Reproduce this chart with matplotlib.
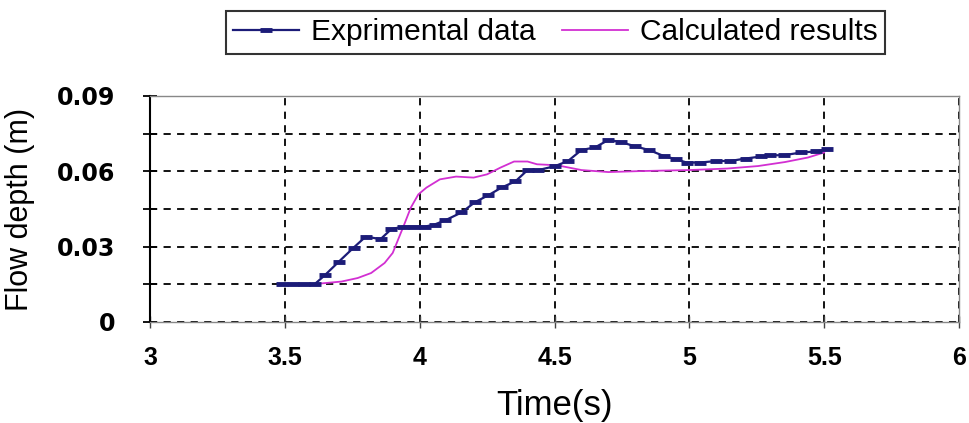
import matplotlib
matplotlib.use("Agg")
import matplotlib.pyplot as plt
from matplotlib.ticker import MultipleLocator
from matplotlib.font_manager import FontProperties

plt.rcParams['font.family'] = ['Liberation Sans', 'DejaVu Sans']

t_exp = [3.49, 3.53, 3.57, 3.61, 3.65, 3.70, 3.755, 3.80, 3.855, 3.895, 3.94, 3.98,
         4.02, 4.055, 4.095, 4.155, 4.205, 4.255, 4.305, 4.355, 4.40, 4.44, 4.50,
         4.55, 4.60, 4.65, 4.70, 4.745, 4.80, 4.85, 4.905, 4.95, 4.99, 5.04, 5.10,
         5.15, 5.21, 5.265, 5.30, 5.35, 5.415, 5.47, 5.51]
y_exp = [0.015, 0.015, 0.015, 0.015, 0.0188, 0.024, 0.0296, 0.034, 0.033, 0.037,
         0.038, 0.038, 0.038, 0.0388, 0.0405, 0.0436, 0.0477, 0.0505, 0.0536, 0.056,
         0.0605, 0.0605, 0.062, 0.0641, 0.0685, 0.0695, 0.0725, 0.0717, 0.0699,
         0.0685, 0.0661, 0.0648, 0.0635, 0.0635, 0.0641, 0.0641, 0.0651, 0.0659,
         0.0664, 0.0664, 0.0675, 0.0679, 0.0688]

# calculated results
t_calc = [3.60, 3.71, 3.77, 3.82, 3.87, 3.90, 3.92, 3.94, 3.967, 3.995, 4.025, 4.075,
          4.135, 4.20, 4.25, 4.30, 4.35, 4.40, 4.435, 4.51, 4.60, 4.70, 4.82, 5.0,
          5.14, 5.255, 5.355, 5.44, 5.50]
y_calc = [0.015, 0.0161, 0.0175, 0.0195, 0.0235, 0.0275, 0.0328, 0.0381, 0.0455,
          0.0508, 0.0535, 0.0568, 0.0579, 0.0575, 0.0588, 0.0615, 0.0639, 0.0639,
          0.0628, 0.0624, 0.0605, 0.0597, 0.0601, 0.0605, 0.0611, 0.0621, 0.0637,
          0.0655, 0.0675]

x_ticks = [3, 3.5, 4, 4.5, 5, 5.5, 6]
x_labels = ['3', '3.5', '4', '4.5', '5', '5.5', '6']
y_ticks = [0, 0.03, 0.06, 0.09]
y_labels = ['0', '0.03', '0.06', '0.09']

fig = plt.figure(figsize=(9.69, 4.23), dpi=100)
ax = fig.add_axes([0.1548, 0.2388, 0.8349, 0.5343])

ax.plot(t_exp, y_exp, color='#1c1c78', lw=1.6, marker='_', ms=9, mew=3.5,
        label='Exprimental data', zorder=4)
ax.plot(t_calc, y_calc, color='#d22fd2', lw=1.3, label='Calculated results', zorder=3)

ax.set_xlim(3, 6)
ax.set_ylim(0, 0.09)
ax.set_xticks(x_ticks)
ax.set_xticklabels(x_labels)
ax.set_yticks(y_ticks)
ax.set_yticklabels(y_labels)
ax.yaxis.set_minor_locator(MultipleLocator(0.015))

ax.grid(True, which='major', color='black', ls=(0, (4, 3.5)), lw=1.3)
ax.yaxis.grid(True, which='minor', color='black', ls=(0, (4, 3.5)), lw=1.3)

for s in ['top', 'right', 'bottom']:
    ax.spines[s].set_color('#888888')
    ax.spines[s].set_linewidth(1)
ax.spines['left'].set_color('black')
ax.spines['left'].set_linewidth(1.5)

ax.tick_params(axis='y', which='both', direction='inout', length=10, width=1.3,
               pad=20)
ax.tick_params(axis='x', which='major', direction='inout', length=8, width=1,
               pad=13, color='#444444')

# bold tick labels, set last so nothing resets them
for lbl in ax.get_xticklabels():
    lbl.set_fontproperties(FontProperties(family='Liberation Sans', weight='bold', size=18))
for lbl in ax.get_yticklabels():
    lbl.set_fontproperties(FontProperties(family='DejaVu Sans', weight='bold', size=17))

ax.set_xlabel('Time(s)', fontsize=25, labelpad=14)
ax.set_ylabel('Flow depth (m)', fontsize=22)
ax.yaxis.set_label_coords(-0.142, 0.5)

leg = fig.legend(loc='center', bbox_to_anchor=(0.573, 0.924), ncol=2, fontsize=21.5,
                 frameon=True, fancybox=False, handlelength=2.2, handletextpad=0.4,
                 columnspacing=0.9, borderpad=0.25)
leg.get_frame().set_edgecolor('black')
leg.get_frame().set_linewidth(1.5)

fig.savefig('out.png', dpi=100)
